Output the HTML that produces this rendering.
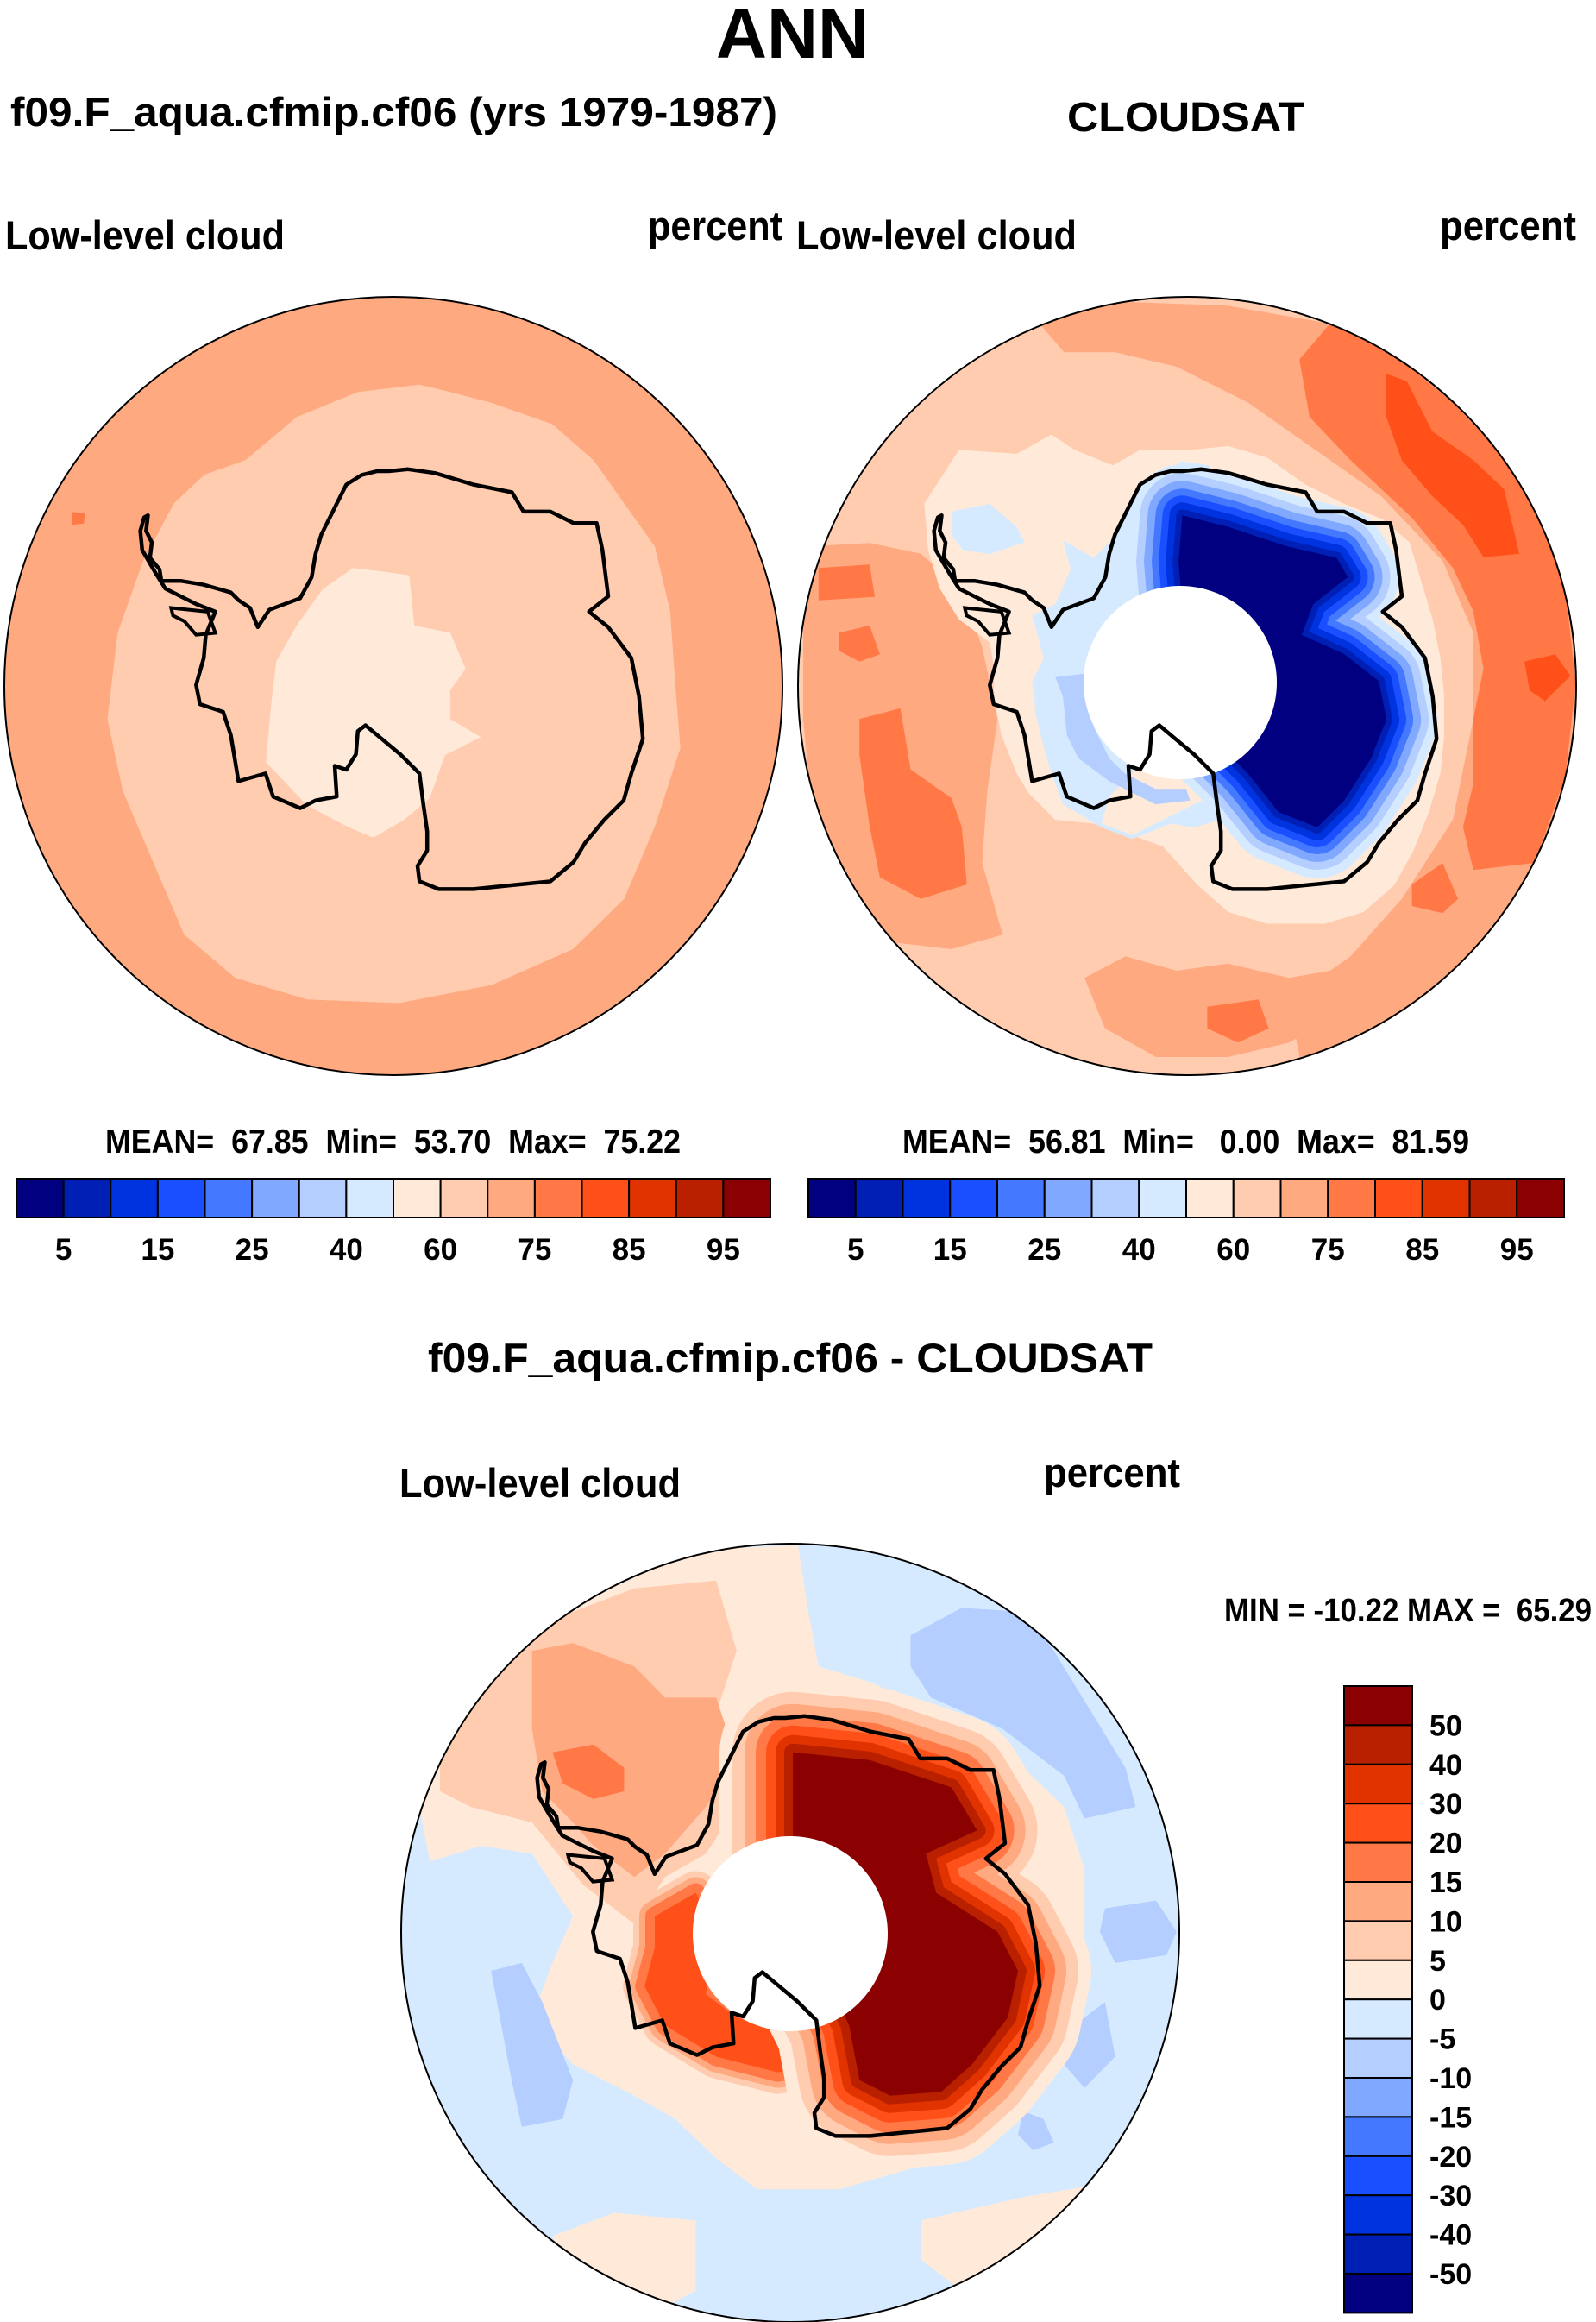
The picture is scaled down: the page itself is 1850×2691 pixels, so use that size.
<!DOCTYPE html>
<html><head><meta charset="utf-8"><style>
html,body{margin:0;padding:0;background:#fff;}
svg{display:block;}
text{font-family:"Liberation Sans",Arial,sans-serif;font-weight:bold;fill:#000;}
</style></head><body>
<svg id="fig" xmlns="http://www.w3.org/2000/svg" width="1850" height="2691" viewBox="0 0 1850 2691">
<text x="830" y="67" font-size="82" textLength="177" lengthAdjust="spacingAndGlyphs">ANN</text>
<text x="12" y="146" font-size="47" textLength="889" lengthAdjust="spacingAndGlyphs">f09.F_aqua.cfmip.cf06 (yrs 1979-1987)</text>
<text x="1237" y="152" font-size="48" textLength="275" lengthAdjust="spacingAndGlyphs">CLOUDSAT</text>
<text x="6" y="289" font-size="47" textLength="324" lengthAdjust="spacingAndGlyphs">Low-level cloud</text>
<text x="751" y="278" font-size="47" textLength="156" lengthAdjust="spacingAndGlyphs">percent</text>
<text x="923" y="289" font-size="47" textLength="325" lengthAdjust="spacingAndGlyphs">Low-level cloud</text>
<text x="1669" y="278" font-size="47" textLength="158" lengthAdjust="spacingAndGlyphs">percent</text>
<text x="122" y="1336" font-size="39" textLength="667" lengthAdjust="spacingAndGlyphs" xml:space="preserve">MEAN=  67.85  Min=  53.70  Max=  75.22</text>
<text x="1046" y="1336" font-size="39" textLength="657" lengthAdjust="spacingAndGlyphs" xml:space="preserve">MEAN=  56.81  Min=   0.00  Max=  81.59</text>
<text x="496" y="1590" font-size="47" textLength="840" lengthAdjust="spacingAndGlyphs">f09.F_aqua.cfmip.cf06 - CLOUDSAT</text>
<text x="463" y="1735" font-size="47" textLength="326" lengthAdjust="spacingAndGlyphs">Low-level cloud</text>
<text x="1210" y="1723" font-size="47" textLength="158" lengthAdjust="spacingAndGlyphs">percent</text>
<text x="1419" y="1879" font-size="38" textLength="426" lengthAdjust="spacingAndGlyphs" xml:space="preserve">MIN = -10.22 MAX =  65.29</text>
<defs>
<clipPath id="cL"><circle cx="456" cy="795" r="451"/></clipPath>
<clipPath id="cR"><circle cx="1376" cy="795" r="451"/></clipPath>
<clipPath id="cB"><circle cx="916" cy="2240" r="451"/></clipPath>
</defs>
<g id="gL" clip-path="url(#cL)"></g>
<g id="gR" clip-path="url(#cR)"></g>
<g id="gB" clip-path="url(#cB)"></g>
<g id="gTop"></g>
</svg>
<script>
// ---- colour bar data ----
const absColors = ["#000080","#0020b5","#0033e0","#1a4fff","#4479ff","#80a8ff","#b3ceff","#d6eaff","#ffeada","#ffccb0","#ffa980","#ff7845","#ff5019","#e03300","#b82000","#8b0000"];
const absTickLabels = ["5","15","25","40","60","75","85","95"];
const absTickIndex = [1,3,5,7,9,11,13,15];
const diffColors = absColors;
const diffLabels = ["50","40","30","20","15","10","5","0","-5","-10","-15","-20","-30","-40","-50"];

const NS="http://www.w3.org/2000/svg";
const svg=document.getElementById('fig');
function el(tag,attrs,parent){const e=document.createElementNS(NS,tag);for(const k in attrs)e.setAttribute(k,attrs[k]);(parent||svg).appendChild(e);return e;}

const F={
 z1:p=>[p[0]/0.8432,p[1]/1.2],
 z2:p=>[p[0]/0.8432,1280+p[1]/1.1056],
 z4:p=>[1000+p[0]/2.24,450+p[1]/2.24],
 z4L:p=>[80+p[0]/2.24,450+p[1]/2.24],
 z4B:p=>[540+p[0]/2.24,1895+p[1]/2.24]
};
function pathD(pts,fr){return pts.map((p,i)=>{const q=F[fr](p);return (i?'L':'M')+q[0].toFixed(1)+' '+q[1].toFixed(1);}).join('')+'Z';}
function poly(g,pts,fr,color,name){
 const e=el('path',{d:pathD(pts,fr),fill:color,'stroke-linejoin':'round'},g);
 
 
 return e;}
function bands(g,pts,fr,levels,name){
 const d=pathD(pts,fr);
 levels.forEach((lv,i)=>{
  const e=el('path',{d:d,fill:lv[0],stroke:lv[0],'stroke-width':lv[1],'stroke-linejoin':'round'},g);
  
  
 });}

const C=absColors;
const coast=[[195,335],[205,330],[200,370],[215,400],[210,440],[235,470],[240,500],[290,500],[350,510],[420,530],[440,550],[470,570],[490,620],[520,575],[600,545],[630,490],[640,430],[655,380],[690,310],[720,250],[760,225],[800,215],[830,215],[880,210],[950,220],[1050,250],[1150,270],[1180,320],[1250,320],[1310,350],[1370,350],[1385,420],[1400,540],[1350,580],[1400,620],[1460,700],[1480,800],[1490,910],[1460,1000],[1440,1070],[1390,1120],[1340,1180],[1310,1230],[1250,1280],[1150,1290],[1050,1300],[960,1300],[910,1280],[905,1240],[930,1200],[930,1150],[920,1080],[910,1000],[860,950],[800,900],[770,875],[750,890],[745,950],[720,990],[690,980],[695,1060],[640,1070],[600,1090],[530,1060],[510,1000],[440,1020],[430,960],[420,900],[400,840],[340,820],[330,770],[350,700],[355,640],[380,580],[330,560],[290,540],[250,520],[225,480],[190,420],[185,370]];
const shelf=[[265,570],[360,580],[380,635],[330,640],[300,605],[270,590]];
function drawCoast(fr){
 const e=el('path',{d:pathD(coast,fr),fill:'none',stroke:'#000','stroke-width':4.5,'stroke-linejoin':'round'});
 
 
 const s=el('path',{d:pathD(shelf,fr),fill:'none',stroke:'#000','stroke-width':4});
 
 
}

// ---------- LEFT MAP ----------
const gL=document.getElementById('gL');
el('rect',{x:0,y:340,width:920,height:910,fill:C[10]},gL);
poly(gL,[[240,640],[290,580],[350,545],[410,535],[440,545],[480,560],[540,590],[580,640],[610,700],[640,760],[655,850],[660,950],[665,1040],[640,1150],[610,1250],[560,1320],[480,1370],[390,1395],[300,1390],[230,1360],[180,1300],[150,1200],[120,1100],[105,1000],[115,880],[140,780],[170,700],[200,660]],'z1',C[9],'region-60-70');
poly(gL,[[315,820],[345,790],[375,795],[400,800],[405,870],[440,880],[455,930],[440,960],[440,1000],[470,1025],[435,1050],[420,1110],[395,1140],[365,1165],[340,1150],[300,1120],[260,1060],[265,980],[270,920],[290,870]],'z1',C[8],'region-50-60');
poly(gL,[[70,712],[83,714],[82,728],[70,730]],'z1',C[11],'region-75-80');

// ---------- RIGHT MAP ----------
const gR=document.getElementById('gR');
el('rect',{x:920,y:340,width:910,height:910,fill:C[9]},gR);
poly(gR,[[1010,440],[1100,420],[1200,425],[1300,450],[1400,520],[1480,640],[1530,780],[1545,950],[1530,1100],[1490,1250],[1420,1370],[1330,1450],[1270,1470],[1260,1390],[1320,1330],[1370,1250],[1420,1140],[1440,1000],[1440,880],[1410,780],[1350,690],[1280,620],[1220,560],[1150,510],[1090,490],[1040,490]],'z1',C[10],'region-ring-70-75');
poly(gR,[[1060,1360],[1100,1330],[1150,1350],[1200,1340],[1260,1360],[1300,1350],[1310,1410],[1260,1450],[1200,1470],[1130,1470],[1080,1430]],'z1',C[10],'region-south-70-75');
poly(gR,[[790,760],[850,755],[900,770],[940,820],[960,900],[975,1000],[965,1100],[960,1200],[980,1300],[930,1320],[870,1310],[820,1260],[795,1150],[785,1000],[785,880]],'z1',C[10],'region-west-70-75');
poly(gR,[[1270,500],[1300,450],[1360,490],[1420,560],[1480,650],[1510,740],[1530,820],[1540,950],[1530,1080],[1500,1200],[1440,1210],[1430,1150],[1440,1090],[1440,1000],[1450,930],[1440,850],[1420,790],[1380,720],[1320,640],[1280,580]],'z1',C[11],'region-east-75-80');
poly(gR,[[800,790],[850,785],[855,830],[800,835]],'z1',C[11],'blob-a');
poly(gR,[[820,880],[850,870],[860,910],[840,920],[820,905]],'z1',C[11],'blob-b');
poly(gR,[[840,1000],[880,985],[890,1070],[930,1110],[940,1150],[945,1230],[900,1250],[860,1220],[850,1150],[840,1050]],'z1',C[11],'blob-c');
poly(gR,[[1180,1400],[1230,1390],[1240,1430],[1210,1450],[1180,1430]],'z1',C[11],'blob-d');
poly(gR,[[1380,1230],[1410,1200],[1425,1250],[1410,1270],[1380,1260]],'z1',C[11],'blob-e');
poly(gR,[[1355,520],[1375,530],[1400,600],[1440,640],[1470,680],[1485,770],[1450,775],[1430,730],[1400,690],[1370,640],[1355,580]],'z1',C[12],'region-80-85');
poly(gR,[[1490,920],[1520,910],[1535,940],[1510,975],[1495,960]],'z1',C[12],'region-80-85-b');
poly(gR,[[160,300],[250,160],[400,170],[490,120],[550,160],[650,200],[720,160],[850,160],[950,150],[1050,180],[1150,250],[1250,300],[1350,340],[1420,400],[1450,500],[1480,600],[1500,700],[1510,800],[1510,900],[1500,1000],[1470,1100],[1430,1200],[1380,1290],[1300,1360],[1200,1390],[1050,1390],[950,1360],[870,1290],[780,1190],[700,1160],[600,1130],[500,1120],[430,1050],[400,1000],[360,900],[340,800],[340,720],[330,660],[250,600],[200,520],[170,420]],'z4',C[8],'region-coastal-50-60');
poly(gR,[[230,320],[330,300],[400,360],[420,400],[330,430],[260,420],[230,380]],'z4',C[7],'region-40-50-a');
poly(gR,[[440,590],[500,560],[540,470],[520,395],[600,440],[640,400],[690,310],[740,240],[830,190],[900,200],[880,600],[700,1000],[640,1060],[620,1130],[700,1160],[820,1100],[900,1060],[930,1120],[860,1140],[800,1130],[700,1170],[620,1140],[520,1080],[490,1000],[470,930],[450,850],[440,760],[470,700]],'z4',C[7],'region-40-50-b');
poly(gR,[[500,750],[580,740],[600,880],[640,960],[680,1000],[760,1040],[840,1040],[850,1070],[760,1080],[640,1020],[560,960],[530,900],[520,800]],'z4',C[6],'region-25-40');
bands(gR,[[830,330],[950,360],[1100,410],[1230,440],[1260,490],[1170,560],[1140,640],[1250,690],[1340,760],[1360,860],[1320,960],[1250,1070],[1180,1140],[1080,1100],[1000,1000],[900,900],[840,700],[820,450]],'z4',
 [[C[7],118],[C[6],98],[C[5],80],[C[4],62],[C[3],46],[C[2],30],[C[1],14],[C[0],0]],'ice-sheet');
el('circle',{cx:1368,cy:791,r:112,fill:'#fff'},gR);

// ---------- DIFF MAP ----------
const gB=document.getElementById('gB');
el('rect',{x:460,y:1785,width:910,height:910,fill:C[7]},gB);
poly(gB,[[430,830],[470,720],[560,620],[680,570],[780,565],[790,650],[800,720],[850,740],[900,770],[960,800],[1000,850],[1040,900],[1060,980],[1060,1100],[1050,1200],[1020,1260],[960,1320],[900,1360],[820,1390],[740,1390],[700,1350],[660,1300],[620,1270],[560,1230],[520,1170],[540,1100],[560,1040],[520,960],[470,950],[420,970],[410,900]],'z2',C[8],'region-0-5');
poly(gB,[[540,1450],[600,1420],[680,1430],[680,1520],[620,1560],[560,1520]],'z2',C[8],'region-0-5-b');
poly(gB,[[900,1430],[1000,1400],[1090,1380],[1110,1450],[1040,1520],[960,1540],[900,1480]],'z2',C[8],'region-0-5-c');
poly(gB,[[430,830],[470,720],[540,660],[620,620],[700,610],[720,700],[700,780],[660,800],[700,830],[720,900],[690,960],[650,990],[620,1050],[570,1000],[520,920],[460,900],[430,880]],'z2',C[9],'region-5-10');
poly(gB,[[520,700],[560,690],[620,720],[650,760],[700,760],[720,840],[690,900],[650,960],[620,990],[580,950],[560,920],[530,880],[520,800]],'z2',C[10],'region-10-15');
poly(gB,[[540,830],[580,820],[610,850],[610,880],[580,890],[550,870]],'z2',C[11],'region-15-20');
poly(gB,[[890,680],[940,645],[1000,650],[1030,700],[1100,850],[1110,900],[1060,915],[1040,860],[980,800],[910,760],[890,720]],'z2',C[6],'neg-patch-a');
poly(gB,[[480,1110],[510,1100],[530,1150],[560,1250],[550,1300],[510,1310],[500,1250],[490,1180]],'z2',C[6],'neg-patch-b');
poly(gB,[[1080,1030],[1130,1020],[1150,1060],[1140,1090],[1090,1100],[1075,1060]],'z2',C[6],'neg-patch-c');
poly(gB,[[1050,1180],[1080,1150],[1090,1220],[1060,1260],[1040,1230]],'z2',C[6],'neg-patch-d');
poly(gB,[[1000,1290],[1020,1300],[1030,1330],[1010,1340],[995,1320]],'z2',C[6],'neg-patch-e');
bands(gB,[[640,1040],[680,1010],[700,1060],[690,1140],[720,1170],[780,1190],[810,1230],[760,1240],[700,1220],[650,1180],[630,1130],[640,1080]],'z2',
 [[C[9],50],[C[10],36],[C[11],22],[C[12],0]],'ross-warm');
bands(gB,[[775,830],[850,840],[930,875],[955,930],[905,960],[915,1010],[975,1060],[995,1110],[985,1170],[950,1230],[920,1265],[870,1270],[840,1250],[830,1180],[800,1100],[775,1000]],'z2',
 [[C[8],170],[C[9],140],[C[10],112],[C[11],86],[C[12],62],[C[13],40],[C[14],20],[C[15],0]],'ice-sheet-diff');
el('circle',{cx:916,cy:2241,r:113,fill:'#fff'},gB);

drawCoast('z4L');drawCoast('z4');drawCoast('z4B');
[[456,795],[1376,795],[916,2240]].forEach(c=>{
 const e=el('circle',{cx:c[0],cy:c[1],r:451,fill:'none',stroke:'#000','stroke-width':2});
 
 
});

function hbar(x0,x1,y0,y1,name){
 const w=(x1-x0)/absColors.length;
 absColors.forEach((c,i)=>{
  const r=el('rect',{x:x0+i*w,y:y0,width:w,height:y1-y0,fill:c,stroke:'#000','stroke-width':2});
  
  
 });
 absTickLabels.forEach((t,k)=>{
  const tx=el('text',{x:x0+absTickIndex[k]*w,y:1460,'font-size':35,'text-anchor':'middle'});
  tx.textContent=t;
  
  
 });
}
hbar(19,893,1366,1411,'left-colorbar');
hbar(937,1813,1366,1411,'right-colorbar');
(function(){
 const y0=1954,h=45.4,x0=1558,w=79;
 const rev=diffColors.slice().reverse();
 rev.forEach((c,i)=>{
  const r=el('rect',{x:x0,y:y0+i*h,width:w,height:h,fill:c,stroke:'#000','stroke-width':2});
  
  
 });
 diffLabels.forEach((t,i)=>{
  const tx=el('text',{x:1657,y:y0+(i+1)*h+12,'font-size':34});
  tx.textContent=t;
  
  
 });
})();
</script>
</body></html>
